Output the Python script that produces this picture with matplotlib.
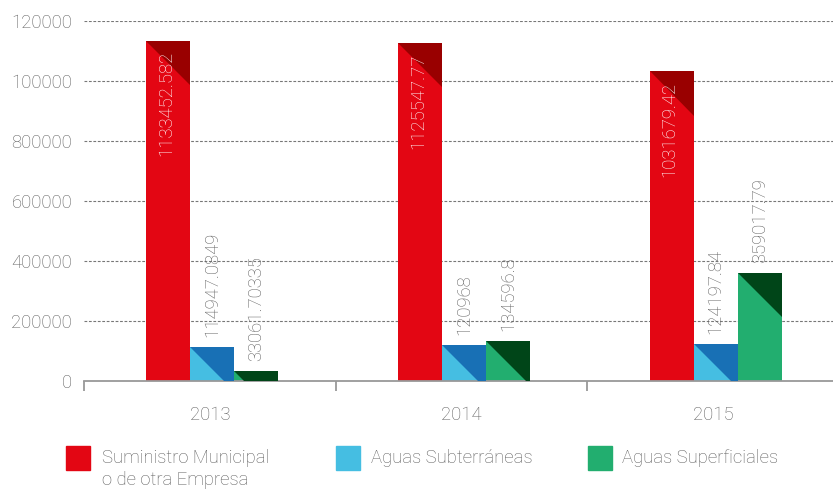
import numpy as np
import matplotlib
matplotlib.use('Agg')
import matplotlib.pyplot as plt
from matplotlib.patches import Polygon, Rectangle

plt.rcParams['font.family'] = ['Roboto', 'DejaVu Sans']
plt.rcParams['font.weight'] = 'light'

# data
years = ['2013', '2014', '2015']
municipal = [1133452.582, 1125547.77, 1031679.42]
subterraneas = [114947.0849, 120968, 124197.84]
superficiales = [33061.70335, 134596.8, 359017.79]
series_names = ['Suministro Municipal\no de otra Empresa', 'Aguas Subterráneas', 'Aguas Superficiales']
ytick_vals = [0, 200000, 400000, 600000, 800000, 1000000, 1200000]
ytick_labels = ['0', '200000', '400000', '600000', '800000', '100000', '120000']

light = ['#e30613', '#45bee2', '#22ae6f']
dark = ['#990000', '#1870b5', '#004518']
gray = '#5e5e5e'

W, H = 833, 490
fig = plt.figure(figsize=(W / 100, H / 100), dpi=100)
ax = fig.add_axes([84 / W, (H - 381) / H, (839 - 84) / W, 360 / H])
ax.set_xlim(-0.5, 2.5)
ax.set_ylim(0, 1200000)

# grid
for v in ytick_vals[1:]:
    ax.axhline(v, color='#777777', lw=0.8, dashes=(2.5, 1.5), zorder=0)

for s in ['top', 'right', 'left']:
    ax.spines[s].set_visible(False)
ax.spines['bottom'].set_color('#999999')
ax.spines['bottom'].set_linewidth(1.3)

ax.set_yticks(ytick_vals)
ax.set_yticklabels(ytick_labels)
ax.tick_params(axis='y', length=0, pad=8.5, labelsize=13.3, labelcolor=gray)
ax.set_xticks([0, 1, 2])
ax.set_xticklabels(years)
ax.set_xticks([-0.5, 0.5, 1.5], minor=True)
ax.tick_params(axis='x', which='major', length=0, pad=18, labelsize=13.3, labelcolor=gray)
ax.tick_params(axis='x', which='minor', length=7, width=1.3, color='#999999', direction='out')

x = np.arange(len(years))
bw = 0.175
fig.canvas.draw()
# pixels per data unit, to make 45 degree triangles
px_x = ax.transData.transform((1, 0))[0] - ax.transData.transform((0, 0))[0]
px_y = ax.transData.transform((0, 1))[1] - ax.transData.transform((0, 0))[1]

all_series = [municipal, subterraneas, superficiales]
for k, vals in enumerate(all_series):
    xs = x + (k - 1) * bw + 0.01
    bars = ax.bar(xs, vals, width=bw, color=light[k], zorder=2)
    for b, v in zip(bars, vals):
        x0 = b.get_x()
        x1 = x0 + bw
        d = bw * px_x / px_y
        tri = Polygon([(x0, v), (x1, v), (x1, v - d)], closed=True,
                      facecolor=dark[k], edgecolor='none', zorder=3)
        ax.add_patch(tri)
        tri.set_clip_path(b)
        lab = f"{v:.10g}"
        cx = x0 + bw / 2
        if k == 0:
            ax.annotate(lab, (cx, v), xytext=(-2, -10), textcoords='offset pixels',
                        rotation=90, ha='center', va='top', color='white',
                        fontsize=13.3, zorder=4)
        else:
            ax.annotate(lab, (cx, v), xytext=(0, 10), textcoords='offset pixels',
                        rotation=90, ha='center', va='bottom', color=gray,
                        fontsize=13.3, zorder=4)

# legend
sq_x = [66, 336, 588]
tx_x = [102, 371, 622]
for k in range(3):
    fig.add_artist(Rectangle((sq_x[k] / W, 1 - 470 / H), 24 / W, 24 / H,
                             transform=fig.transFigure, color=light[k]))
    fig.text(tx_x[k] / W, 1 - 449 / H, series_names[k], ha='left', va='top',
             fontsize=13.3, color=gray, linespacing=1.25)

fig.savefig('out.png', dpi=100)
